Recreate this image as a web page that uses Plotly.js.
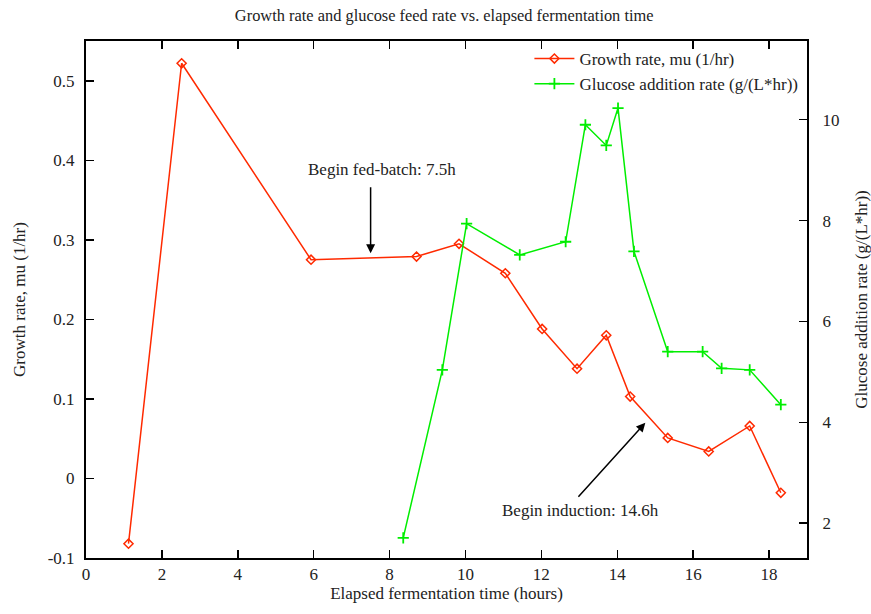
<!DOCTYPE html>
<html>
<head>
<meta charset="utf-8">
<script src="https://cdn.plot.ly/plotly-3.0.1.min.js"></script>
<style>html,body{margin:0;padding:0;background:#fff;}#chart{width:871px;height:614px;}</style>
</head>
<body>
<div id="chart"></div>
<script>
// Growth rate data (left axis)
const growthTime = [1.12, 2.52, 5.93, 8.71, 9.83, 11.05, 12.02, 12.94, 13.71, 14.34, 15.33, 16.41, 17.49, 18.31];
const growthRate = [-0.082, 0.522, 0.275, 0.279, 0.295, 0.258, 0.188, 0.138, 0.180, 0.103, 0.051, 0.034, 0.066, -0.018];

// Glucose addition rate data (right axis)
const glucoseTime = [8.36, 9.39, 10.03, 11.43, 12.64, 13.16, 13.71, 14.02, 14.44, 15.33, 16.25, 16.75, 17.49, 18.31];
const glucoseRate = [1.71, 5.04, 7.94, 7.32, 7.58, 9.90, 9.49, 10.23, 7.39, 5.40, 5.40, 5.07, 5.04, 4.35];

// Tick labels
const xTicks = [0, 2, 4, 6, 8, 10, 12, 14, 16, 18];
const yTickVals = [-0.1, 0, 0.1, 0.2, 0.3, 0.4, 0.5];
const yTickText = ['-0.1', '0', '0.1', '0.2', '0.3', '0.4', '0.5'];
const y2Ticks = [2, 4, 6, 8, 10];

const FONT = 'Liberation Serif, Times New Roman, serif';
const FS = 17;
const TXT = '#222';
const RED = '#ff2a00';
const GREEN = '#00ee00';

const traces = [
  {
    x: growthTime, y: growthRate, name: 'Growth rate, mu (1/hr)',
    mode: 'lines+markers', type: 'scatter',
    line: {color: RED, width: 1.5},
    marker: {symbol: 'diamond-open', size: 7, color: RED, line: {width: 1.5, color: RED}}
  },
  {
    x: glucoseTime, y: glucoseRate, name: 'Glucose addition rate (g/(L*hr))',
    yaxis: 'y2', mode: 'lines+markers', type: 'scatter',
    line: {color: GREEN, width: 1.5},
    marker: {symbol: 'cross-thin-open', size: 8, color: GREEN, line: {width: 1.8, color: GREEN}}
  }
];

const layout = {
  width: 871, height: 614,
  margin: {l: 86, r: 64, t: 41, b: 56},
  paper_bgcolor: '#fff', plot_bgcolor: '#fff',
  font: {family: FONT, size: FS, color: TXT},
  title: {text: 'Growth rate and glucose feed rate vs. elapsed fermentation time',
          font: {family: FONT, size: 16.4, color: TXT}, x: 0.51, xanchor: 'center', y: 0.975, yanchor: 'middle'},
  showlegend: true,
  legend: {x: 0.995, y: 1.0, xanchor: 'right', yanchor: 'top', bgcolor: 'rgba(0,0,0,0)',
           font: {family: FONT, size: FS, color: TXT}, tracegroupgap: 0, itemwidth: 40},
  xaxis: {
    range: [0, 19], tickvals: xTicks, ticks: 'inside', ticklen: 8, tickwidth: 1.5, tickcolor: '#000',
    showline: true, linecolor: '#000', linewidth: 2, mirror: 'ticks', showgrid: false, zeroline: false,
    title: {text: 'Elapsed fermentation time (hours)', font: {family: FONT, size: FS, color: TXT}, standoff: 4},
    tickfont: {family: FONT, size: FS, color: TXT}
  },
  yaxis: {
    range: [-0.1, 0.55], tickvals: yTickVals, ticktext: yTickText, ticks: 'inside', ticklen: 8, tickwidth: 1.5, tickcolor: '#000',
    showline: true, linecolor: '#000', linewidth: 2, showgrid: false, zeroline: false, ticklabelstandoff: 6,
    title: {text: 'Growth rate, mu (1/hr)', font: {family: FONT, size: FS, color: TXT}, standoff: 18},
    tickfont: {family: FONT, size: FS, color: TXT}
  },
  yaxis2: {
    overlaying: 'y', side: 'right', range: [1.31, 11.56], tickvals: y2Ticks,
    ticks: 'inside', ticklen: 8, tickwidth: 1.5, tickcolor: '#000', ticklabelstandoff: 10,
    showline: true, linecolor: '#000', linewidth: 2, showgrid: false, zeroline: false,
    title: {text: 'Glucose addition rate (g/(L*hr))', font: {family: FONT, size: FS, color: TXT}, standoff: 18},
    tickfont: {family: FONT, size: FS, color: TXT}
  },
  annotations: [
    {x: 7.81, y: 0.389, xref: 'x', yref: 'y', text: 'Begin fed-batch: 7.5h', showarrow: false,
     font: {family: FONT, size: FS, color: TXT}},
    {x: 7.5, y: 0.283, xref: 'x', yref: 'y', ax: 7.5, ay: 0.368, axref: 'x', ayref: 'y', text: '',
     showarrow: true, arrowhead: 2, arrowsize: 1.2, arrowwidth: 1.5, arrowcolor: '#000'},
    {x: 13.02, y: -0.04, xref: 'x', yref: 'y', text: 'Begin induction: 14.6h', showarrow: false,
     font: {family: FONT, size: FS, color: TXT}},
    {x: 14.74, y: 0.070, xref: 'x', yref: 'y', ax: 12.94, ay: -0.025, axref: 'x', ayref: 'y', text: '',
     showarrow: true, arrowhead: 2, arrowsize: 1.2, arrowwidth: 1.5, arrowcolor: '#000'}
  ]
};

Plotly.newPlot('chart', traces, layout, {displayModeBar: false, staticPlot: true});
</script>
</body>
</html>
